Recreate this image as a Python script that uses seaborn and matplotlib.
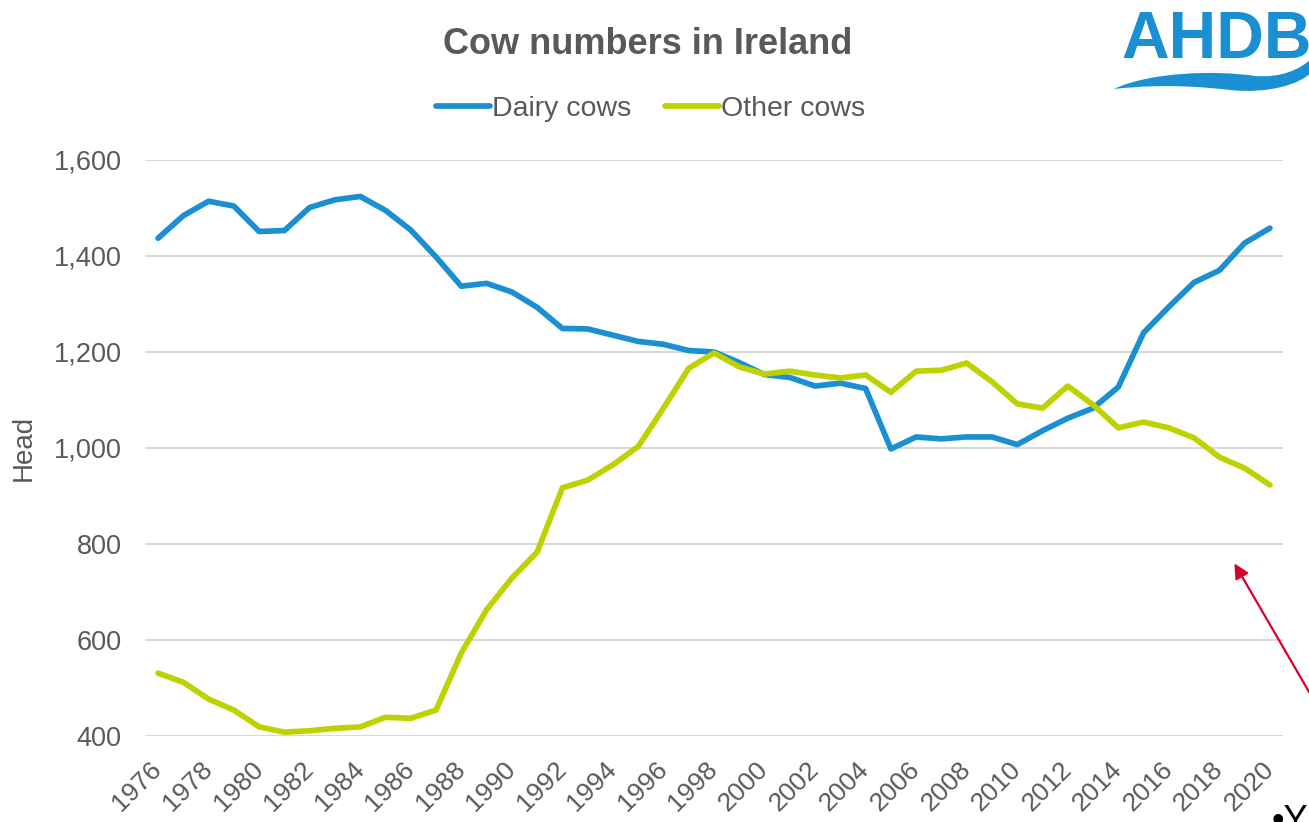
import numpy as np
import pandas as pd
import matplotlib
matplotlib.use("Agg")
import matplotlib.pyplot as plt
from matplotlib.path import Path
from matplotlib.patches import PathPatch, FancyArrowPatch
import seaborn as sns

# Cow numbers in Ireland ('000 head)
years = list(range(1976, 2021))
dairy_cows = [1437, 1484, 1514, 1504, 1451, 1453, 1501, 1517, 1524, 1495,
              1454, 1398, 1337, 1343, 1325, 1293, 1249, 1248, 1235, 1222,
              1216, 1203, 1200, 1178, 1153, 1147, 1129, 1135, 1124, 998,
              1023, 1019, 1023, 1023, 1007, 1036, 1062, 1083, 1127, 1240,
              1294, 1345, 1370, 1427, 1458]
other_cows = [531, 512, 477, 454, 419, 408, 411, 416, 419, 439,
              437, 454, 573, 663, 729, 783, 917, 933, 965, 1003,
              1083, 1166, 1198, 1169, 1154, 1160, 1152, 1146, 1152, 1116,
              1160, 1162, 1177, 1138, 1092, 1083, 1129, 1090, 1042, 1054,
              1042, 1021, 981, 958, 923]
series_names = ["Dairy cows", "Other cows"]
colours = ["#1A8FD2", "#BED200"]
y_ticks = [400, 600, 800, 1000, 1200, 1400, 1600]

df = pd.DataFrame({"year": years * 2,
                   "head": dairy_cows + other_cows,
                   "series": [series_names[0]] * len(years) + [series_names[1]] * len(years)})

sns.set_style("white")
plt.rcParams["font.family"] = ["Liberation Sans", "DejaVu Sans"]
grey = "#595959"

fig = plt.figure(figsize=(13.09, 8.22), dpi=100)
ax = fig.add_axes([0.1111, 0.1046, 0.8687, 0.7008])

sns.lineplot(data=df, x="year", y="head", hue="series", palette=colours,
             linewidth=4.1, ax=ax, legend=True)

ax.set_xlim(1975.5, 2020.5)
ax.set_ylim(400, 1600)
ax.set_yticks(y_ticks)
ax.set_yticklabels([f"{v:,}" for v in y_ticks], fontsize=19.5, color=grey)
ax.set_xticks(years[::2])
ax.set_xticklabels([str(y) for y in years[::2]], fontsize=19, color=grey,
                   rotation=45, ha="right", va="center", rotation_mode="anchor")
ax.tick_params(axis="x", length=0, pad=21)
ax.tick_params(axis="y", length=0, pad=17)
ax.yaxis.grid(True, color="#D9D9D9", linewidth=1.5)
ax.set_axisbelow(True)
sns.despine(ax=ax, left=True, bottom=True)
ax.set_xlabel("")
ax.set_ylabel("Head", fontsize=20, color=grey, labelpad=12)

handles, labels = ax.get_legend_handles_labels()
ax.legend_.remove()
fig.legend(handles, labels, loc="center", bbox_to_anchor=(0.497, 0.868),
           ncol=2, frameon=False, fontsize=20.5, handlelength=1.9,
           handletextpad=0.05, columnspacing=1.2, labelcolor=grey)

fig.text(0.495, 0.946, "Cow numbers in Ireland", ha="center", va="center",
         fontsize=26, fontweight="bold", color=grey)

# AHDB logo (the B runs off the right edge, as in the original)
logo_blue = "#1A8FD2"
fig.text(1121 / 1309, 1 - 58 / 822, "AHDB", ha="left", va="baseline",
         fontsize=47.5, fontweight="bold", color=logo_blue)
W, H = 1309, 822
pts = [(1114, 89), (1150, 72), (1215, 70), (1255, 76),
       (1280, 78), (1300, 70), (1312, 58),
       (1312, 72),
       (1300, 84), (1270, 94), (1230, 90),
       (1180, 84), (1140, 86), (1114, 89)]
codes = [Path.MOVETO, Path.CURVE4, Path.CURVE4, Path.CURVE4,
         Path.CURVE4, Path.CURVE4, Path.CURVE4,
         Path.LINETO,
         Path.CURVE4, Path.CURVE4, Path.CURVE4,
         Path.CURVE4, Path.CURVE4, Path.CURVE4]
swoosh = Path([(x / W, 1 - y / H) for x, y in pts], codes)
fig.patches.append(PathPatch(swoosh, facecolor=logo_blue, edgecolor="none",
                             transform=fig.transFigure))

# red annotation arrow
arrow = FancyArrowPatch((1312 / W, 1 - 697 / H), (1233 / W, 1 - 561 / H),
                        transform=fig.transFigure, arrowstyle="-|>",
                        mutation_scale=22, color="#D9002B", linewidth=1.6)
fig.patches.append(arrow)
fig.text(1272 / W, 1 - 804 / H, "•Y", ha="left", va="top", fontsize=26,
         color="black")

fig.savefig("out.png", dpi=100)
